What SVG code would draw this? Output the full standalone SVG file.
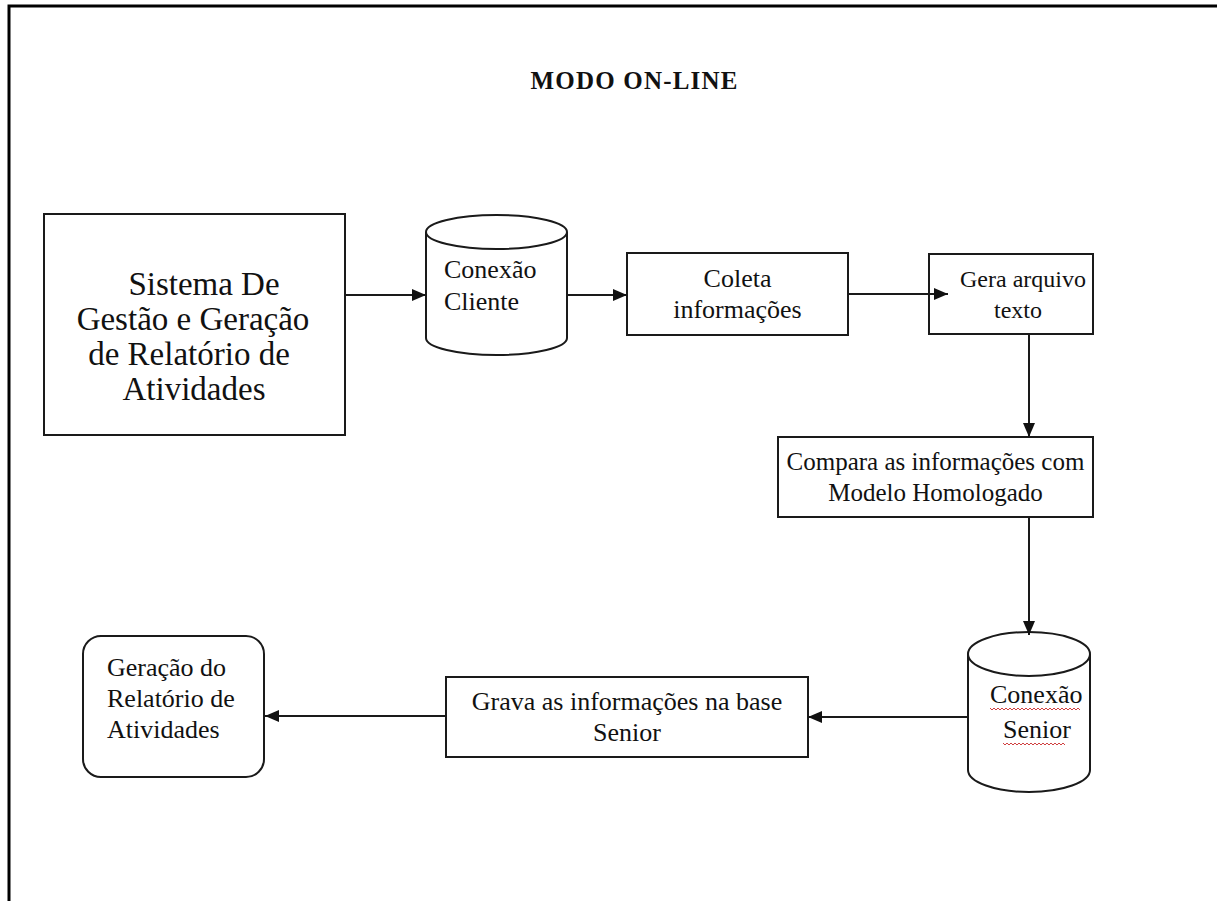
<svg xmlns="http://www.w3.org/2000/svg" width="1217" height="901" viewBox="0 0 1217 901">
  <style>
    .shape { fill: #fff; stroke: #1a1a1a; stroke-width: 2; }
    .lbl { font-family: "Liberation Serif", "Times New Roman", serif; font-size: 26px; fill: #111; }
    .big { font-size: 33px; }
    .mid { text-anchor: middle; }
    .conn { fill: none; stroke: #1a1a1a; stroke-width: 2; marker-end: url(#arrow); }
    .frame { fill: none; stroke: #000; stroke-width: 3; }
    .squiggle { fill: none; stroke: #d04040; stroke-width: 1; }
  </style>
  <defs>
    <marker id="arrow" viewBox="0 0 14 12" refX="14" refY="6" markerWidth="14" markerHeight="12" markerUnits="userSpaceOnUse" orient="auto">
      <path d="M0,0 L14,6 L0,12 Z" fill="#111"/>
    </marker>
  </defs>

  <rect width="1217" height="901" fill="#fff"/>

  <!-- page frame: top and left edges -->
  <path class="frame" d="M9,901 L9,6 L1217,6"/>

  <text class="lbl mid" x="634" y="89" style="font-size:25px;font-weight:bold" textLength="207">MODO ON-LINE</text>

  <g id="sistema">
    <rect class="shape" x="44" y="214" width="301" height="221"/>
    <text class="lbl big mid" x="204" y="295">Sistema De</text>
    <text class="lbl big mid" x="193" y="330">Gestão e Geração</text>
    <text class="lbl big mid" x="189" y="365">de Relatório de</text>
    <text class="lbl big mid" x="194" y="400">Atividades</text>
  </g>

  <g id="conexao-cliente">
    <path class="shape" d="M426,232 L426,338 A70.5,17 0 0 0 567,338 L567,232"/>
    <ellipse class="shape" cx="496.5" cy="232" rx="70.5" ry="17"/>
    <text class="lbl" x="444" y="278">Conexão</text>
    <text class="lbl" x="444" y="310">Cliente</text>
  </g>

  <g id="coleta">
    <rect class="shape" x="627" y="253" width="221" height="82"/>
    <text class="lbl mid" x="737.5" y="287">Coleta</text>
    <text class="lbl mid" x="737.5" y="318">informações</text>
  </g>

  <g id="gera-arquivo">
    <rect class="shape" x="929" y="254" width="164" height="80"/>
    <text class="lbl mid" x="1023" y="287" style="font-size:24px">Gera arquivo</text>
    <text class="lbl mid" x="1018" y="318" style="font-size:24px">texto</text>
  </g>

  <g id="compara">
    <rect class="shape" x="778" y="437" width="315" height="80"/>
    <text class="lbl mid" x="935.5" y="470" style="font-size:25px">Compara as informações com</text>
    <text class="lbl mid" x="935.5" y="501" style="font-size:25px">Modelo Homologado</text>
  </g>

  <g id="conexao-senior">
    <path class="shape" d="M968,654 L968,770 A61,22 0 0 0 1090,770 L1090,654"/>
    <ellipse class="shape" cx="1029" cy="654" rx="61" ry="22"/>
    <text class="lbl" x="990" y="703">Conexão</text>
    <text class="lbl" x="1003" y="738">Senior</text>
    <path class="squiggle" d="M990,708 l2,2 l2,-2 l2,2 l2,-2 l2,2 l2,-2 l2,2 l2,-2 l2,2 l2,-2 l2,2 l2,-2 l2,2 l2,-2 l2,2 l2,-2 l2,2 l2,-2 l2,2 l2,-2 l2,2 l2,-2 l2,2 l2,-2 l2,2 l2,-2 l2,2 l2,-2 l2,2 l2,-2 l2,2 l2,-2 l2,2 l2,-2 l2,2 l2,-2 l2,2 l2,-2 l2,2 l2,-2 l2,2 l2,-2 l2,2 l2,-2 l2,2"/>
    <path class="squiggle" d="M1003,743 l2,2 l2,-2 l2,2 l2,-2 l2,2 l2,-2 l2,2 l2,-2 l2,2 l2,-2 l2,2 l2,-2 l2,2 l2,-2 l2,2 l2,-2 l2,2 l2,-2 l2,2 l2,-2 l2,2 l2,-2 l2,2 l2,-2 l2,2 l2,-2 l2,2 l2,-2 l2,2 l2,-2 l2,2"/>
  </g>

  <g id="grava">
    <rect class="shape" x="446" y="677" width="362" height="80"/>
    <text class="lbl mid" x="627" y="710">Grava as informações na base</text>
    <text class="lbl mid" x="627" y="741">Senior</text>
  </g>

  <g id="geracao-relatorio">
    <rect class="shape" x="83" y="636" width="181" height="141" rx="18" ry="18"/>
    <text class="lbl" x="107" y="676">Geração do</text>
    <text class="lbl" x="107" y="707">Relatório de</text>
    <text class="lbl" x="107" y="738">Atividades</text>
  </g>

  <g id="connectors">
    <line class="conn" x1="345" y1="295" x2="426" y2="295"/>
    <line class="conn" x1="567" y1="295" x2="627" y2="295"/>
    <line class="conn" x1="848" y1="294" x2="948" y2="294"/>
    <line class="conn" x1="1029" y1="334" x2="1029" y2="437"/>
    <line class="conn" x1="1029" y1="517" x2="1029" y2="635"/>
    <line class="conn" x1="968" y1="717" x2="808" y2="717"/>
    <line class="conn" x1="446" y1="716" x2="265" y2="716"/>
  </g>
</svg>
